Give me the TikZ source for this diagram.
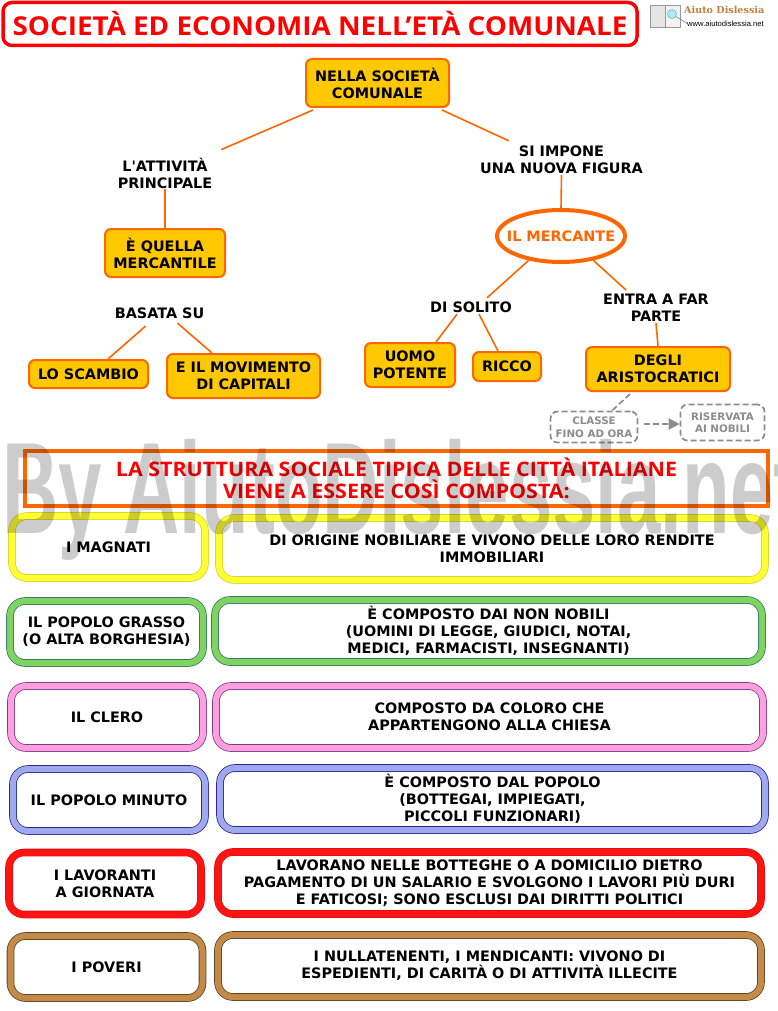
\documentclass[tikz,border=0pt]{standalone}
\usepackage{fontspec}
\setmainfont{DejaVu Sans}
\newfontfamily\headfont[FakeStretch=1.07]{Open Sans}
\newfontfamily\markfont{Liberation Sans}
\newfontfamily\logofont{DejaVu Serif}
\newfontfamily\aposfont{DejaVu Sans}
\usepackage{xcolor}
\definecolor{acc}{HTML}{FF6600}
\definecolor{gold}{HTML}{FFC800}
\definecolor{mute}{HTML}{8C8C8C}
\definecolor{ttlred}{HTML}{FF0000}
\usetikzlibrary{arrows.meta,positioning,calc,shapes.geometric,shadows}
\tikzset{
  gbox/.style={draw=acc,fill=gold,rounded corners=6pt,line width=2pt,font=\bfseries\fontsize{14.4}{17}\selectfont,align=center,inner sep=0pt},
  lab/.style={font=\bfseries\fontsize{14.4}{17}\selectfont,align=center,inner sep=1pt},
  arr/.style={draw=acc,line width=1.6pt},
  gdash/.style={draw=mute,line width=1.7pt,dash pattern=on 6pt off 3pt},
  gnote/.style={gdash,fill=white,rounded corners=7pt,font=\bfseries\fontsize{10.3}{12.5}\selectfont,text=mute,align=center,inner sep=0pt},
  rowbox/.style 2 args={draw=#2,double=#1,double distance=6pt,line width=.8pt,fill=white,rounded corners=15pt,
    drop shadow={shadow xshift=1pt,shadow yshift=-2pt,fill=black,opacity=.22},inner sep=0pt,
    font=\bfseries\fontsize{14.4}{17}\selectfont,align=center},
}
\begin{document}
\begin{tikzpicture}[x=1pt,y=-1pt]
\useasboundingbox (0,0) rectangle (777,1011);
\fill[white] (0,0) rectangle (777,1011);
% titolo
\node[draw=ttlred,line width=3.5pt,rounded corners=9pt,fill=white,minimum width=634pt,minimum height=43pt,inner sep=0pt,text=ttlred,font=\headfont\bfseries\fontsize{26}{28}\selectfont] (title) at (320,24) {SOCIETÀ ED ECONOMIA NELL’ETÀ COMUNALE};
% logo
\node[draw=black!40,fill=black!10,minimum width=15pt,minimum height=22pt,inner sep=0pt] (logol) at (657.5,16) {};
\node[draw=black!40,fill=black!5,minimum width=15pt,minimum height=22pt,inner sep=0pt,right=0pt of logol] (logor) {};
\node[circle,draw=teal!70,fill=cyan!30,minimum size=9pt,inner sep=0pt] (logoc) at (672,14) {};
\node[anchor=west,inner sep=0pt,font=\logofont\bfseries\fontsize{9.6}{10}\selectfont,text=brown] (logotxt) at (684,10) {Aiuto Dislessia};
\node[anchor=west,inner sep=0pt,font=\markfont\fontsize{7.6}{8}\selectfont] (logourl) at (687,23.5) {www.aiutodislessia.net};
\draw[black!50,line width=.6pt] (logoc) -- (logourl.west);
% mappa
\node[gbox,minimum width=143pt,minimum height=48pt] (top) at (377.5,83) {NELLA SOCIETÀ\\COMUNALE};
\node[lab] (attiv) at (165,173) {L{\aposfont\bfseries\char39}ATTIVITÀ\\PRINCIPALE};
\node[lab] (figura) at (561.5,160) {SI IMPONE\\UNA NUOVA FIGURA};
\node[gbox,minimum width=120pt,minimum height=48pt] (merc) at (165,253) {È QUELLA\\MERCANTILE};
\node[lab] (basata) at (159.5,313.5) {BASATA SU};
\node[gbox,minimum width=119pt,minimum height=28pt] (scambio) at (88.5,374) {LO SCAMBIO};
\node[gbox,minimum width=153pt,minimum height=44pt] (movim) at (243.5,376) {E IL MOVIMENTO\\DI CAPITALI};
\node[ellipse,draw=acc,fill=white,line width=4pt,minimum width=128pt,minimum height=52pt,inner sep=0pt,text=acc,font=\bfseries\fontsize{14.4}{17}\selectfont] (mercante) at (561,236) {\makebox[0pt]{IL MERCANTE}};
\node[lab] (solito) at (471,307.5) {DI SOLITO};
\node[lab] (entra) at (656,308) {ENTRA A FAR\\PARTE};
\node[gbox,minimum width=90pt,minimum height=44pt] (uomo) at (410,365) {UOMO\\POTENTE};
\node[gbox,minimum width=68pt,minimum height=29pt] (ricco) at (507,366.5) {RICCO};
\node[gbox,minimum width=144pt,minimum height=44pt] (arist) at (658,369) {DEGLI\\ARISTOCRATICI};
\node[gnote,minimum width=87pt,minimum height=31pt] (classe) at (594,427) {CLASSE\\FINO AD ORA};
\node[gnote,minimum width=84pt,minimum height=36pt] (riserv) at (722.5,422.5) {RISERVATA\\AI NOBILI};
% collegamenti
\draw[arr] ([xshift=8pt,yshift=-2pt]top.south west) -- ([xshift=8pt,yshift=7pt]attiv.north east);
\draw[arr] ([xshift=-8pt,yshift=-2pt]top.south east) -- ([xshift=30pt,yshift=4pt]figura.north west);
\draw[arr] (attiv.south) -- (merc.north);
\draw[arr] (figura.south) -- (mercante.north);
\draw[arr] ([xshift=-14pt,yshift=-6pt]basata.south) -- ([xshift=19.5pt]scambio.north);
\draw[arr] ([xshift=18pt,yshift=-3pt]basata.south) -- ([xshift=-31.5pt]movim.north);
\draw[arr] (mercante.-143) -- ([xshift=-26pt,yshift=3pt]solito.north east);
\draw[arr] (mercante.-37) -- ([xshift=24pt,yshift=3pt]entra.north west);
\draw[arr] ([xshift=-14pt]solito.south) -- ([xshift=26pt]uomo.north);
\draw[arr] ([xshift=8pt]solito.south) -- ([xshift=-9pt]ricco.north);
\draw[arr] (entra.south) -- (arist.north);
\draw[gdash] ([xshift=-28pt,yshift=-2pt]arist.south) -- ([xshift=18pt]classe.north);
\draw[gdash,-{Triangle[length=11pt,width=11pt]}] ([xshift=6pt,yshift=3pt]classe.east) -- ([yshift=-1.5pt]riserv.west);
% tabella
\node[draw=acc,line width=4pt,fill=white,minimum width=743pt,minimum height=55pt,inner sep=0pt,text=ttlred,font=\headfont\bfseries\fontsize{20}{21.5}\selectfont,align=center] (banner) at (396.5,478.5) {LA STRUTTURA SOCIALE TIPICA DELLE CITTÀ ITALIANE\\VIENE A ESSERE COSÌ COMPOSTA:};
\foreach \n/\col/\dk/\lx/\ly/\lw/\rx/\ry/\rw/\lt/\rt in {
  a/FFFF33/D6D63A/108.5/547/193/492/549/546/{I MAGNATI}/{DI ORIGINE NOBILIARE E VIVONO DELLE LORO RENDITE\\IMMOBILIARI},
  b/7FD35E/2F7F6A/106.5/632/193/488.5/631/547/{IL POPOLO GRASSO\\(O ALTA BORGHESIA)}/{È COMPOSTO DAI NON NOBILI\\(UOMINI DI LEGGE, GIUDICI, NOTAI,\\MEDICI, FARMACISTI, INSEGNANTI)},
  c/FF9FE0/7A3F8C/107/717/192/489.5/717/547/{IL CLERO}/{COMPOSTO DA COLORO CHE\\APPARTENGONO ALLA CHIESA},
  d/A0A8F0/2A2A8C/109/800/192/492.5/799/545/{IL POPOLO MINUTO}/{È COMPOSTO DAL POPOLO\\(BOTTEGAI, IMPIEGATI,\\ PICCOLI FUNZIONARI)},
  e/FF1414/E01010/105/883.5/192/489.5/883/543/{I LAVORANTI\\A GIORNATA}/{LAVORANO NELLE BOTTEGHE O A DOMICILIO DIETRO\\PAGAMENTO DI UN SALARIO E SVOLGONO I LAVORI PIÙ DURI\\E FATICOSI; SONO ESCLUSI DAI DIRITTI POLITICI},
  f/C48A4A/5A4520/106.5/967/192/489.5/966/543/{I POVERI}/{I NULLATENENTI, I MENDICANTI: VIVONO DI\\ESPEDIENTI, DI CARITÀ O DI ATTIVITÀ ILLECITE}}{
  \definecolor{cc}{HTML}{\col}\definecolor{cd}{HTML}{\dk}
  \node[rowbox={cc}{cd},minimum width=\lw pt,minimum height=62pt] (l\n) at (\lx,\ly) {\lt};
  \node[rowbox={cc}{cd},minimum width=\rw pt,minimum height=62pt] (r\n) at (\rx,\ry) {\rt};
}
% filigrana
\begin{scope}
\clip (0,0) rectangle (777,1011);
\node[anchor=base west,inner sep=0pt,text=black,opacity=.2,font=\markfont\bfseries\fontsize{130}{130}\selectfont,xscale=.6] (mark) at (2,533) {By AiutoDislessia.net};
\end{scope}
\end{tikzpicture}
\end{document}
